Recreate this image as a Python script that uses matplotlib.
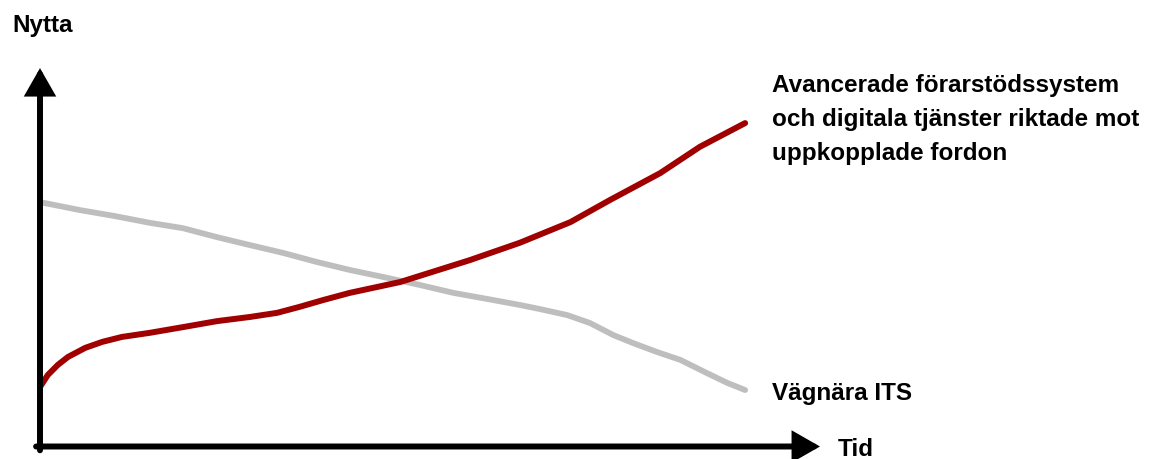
import matplotlib
matplotlib.use('Agg')
import matplotlib.pyplot as plt
from matplotlib import font_manager

# Utility over time for the two groups of services (time and utility on a 0-100 scale)
adas_time = [0, 1.0, 2.3, 3.6, 5.8, 8.0, 10.5, 14.1, 18.3, 22.7, 26.9, 30.4, 33.3, 36.3,
             39.7, 46.2, 55.1, 61.5, 68.0, 73.1, 79.5, 84.6, 90.4]
adas_value = [15.8, 19.0, 21.7, 23.8, 26.2, 27.8, 29.1, 30.2, 31.7, 33.3, 34.4, 35.5, 37.1, 38.9,
              40.8, 43.7, 49.5, 54.1, 59.6, 65.5, 72.6, 79.6, 85.9]

road_time = [0, 5.1, 9.6, 14.1, 18.3, 22.7, 26.9, 31.2, 35.5, 39.7, 44.5, 48.7, 53.0, 57.3,
             61.5, 64.1, 67.6, 70.5, 73.5, 76.0, 79.1, 82.1, 85.5, 88.1, 90.4]
road_value = [64.9, 62.8, 61.2, 59.4, 58.0, 55.6, 53.5, 51.4, 49.0, 46.9, 44.8, 42.9, 40.8, 39.2,
              37.6, 36.5, 34.9, 32.8, 29.6, 27.5, 25.1, 23.0, 19.5, 16.9, 15.0]

adas_label = 'Avancerade förarstödssystem\noch digitala tjänster riktade mot\nuppkopplade fordon'
road_label = 'Vägnära ITS'
x_label = 'Tid'
y_label = 'Nytta'

names = {f.name for f in font_manager.fontManager.ttflist}
if 'Liberation Sans Narrow' in names:
    family, size = 'Liberation Sans Narrow', 20
else:
    family, size = 'Liberation Sans', 17.5
plt.rcParams['font.family'] = family

W, H = 1152, 459
fig = plt.figure(figsize=(W / 100, H / 100), dpi=100)
ax = fig.add_axes([40 / W, (H - 446.5) / H, 780 / W, (446.5 - 70) / H])
ax.set_xlim(0, 100)
ax.set_ylim(0, 100)
ax.axis('off')

ax.plot(road_time, road_value, color='#bebebe', lw=4.2, solid_capstyle='round',
        solid_joinstyle='round', clip_on=False)
ax.plot(adas_time, adas_value, color='#a00000', lw=4.3, solid_capstyle='round',
        solid_joinstyle='round', clip_on=False)

# Axis arrows
arrow = dict(arrowstyle='-|>,head_length=0.7,head_width=0.4', lw=4.3, color='black',
             mutation_scale=20, shrinkA=0, shrinkB=0, joinstyle='miter')
ax.annotate('', xy=(0, 100.5), xytext=(0, -1), arrowprops=arrow, annotation_clip=False)
ax.annotate('', xy=(100, 0), xytext=(-0.5, 0), arrowprops=arrow, annotation_clip=False)

fig.text(12 / W, 1 - 32 / H, y_label, fontsize=size, fontweight='bold', va='baseline')
fig.text(838 / W, 1 - 456 / H, x_label, fontsize=size, fontweight='bold', va='baseline')
fig.text(772 / W, 1 - 400 / H, road_label, fontsize=size, fontweight='bold', va='baseline')
fig.text(772 / W, 1 - 74 / H, adas_label, fontsize=size, fontweight='bold', va='top',
         linespacing=1.62)

fig.savefig('out.png', dpi=100, facecolor='white')
